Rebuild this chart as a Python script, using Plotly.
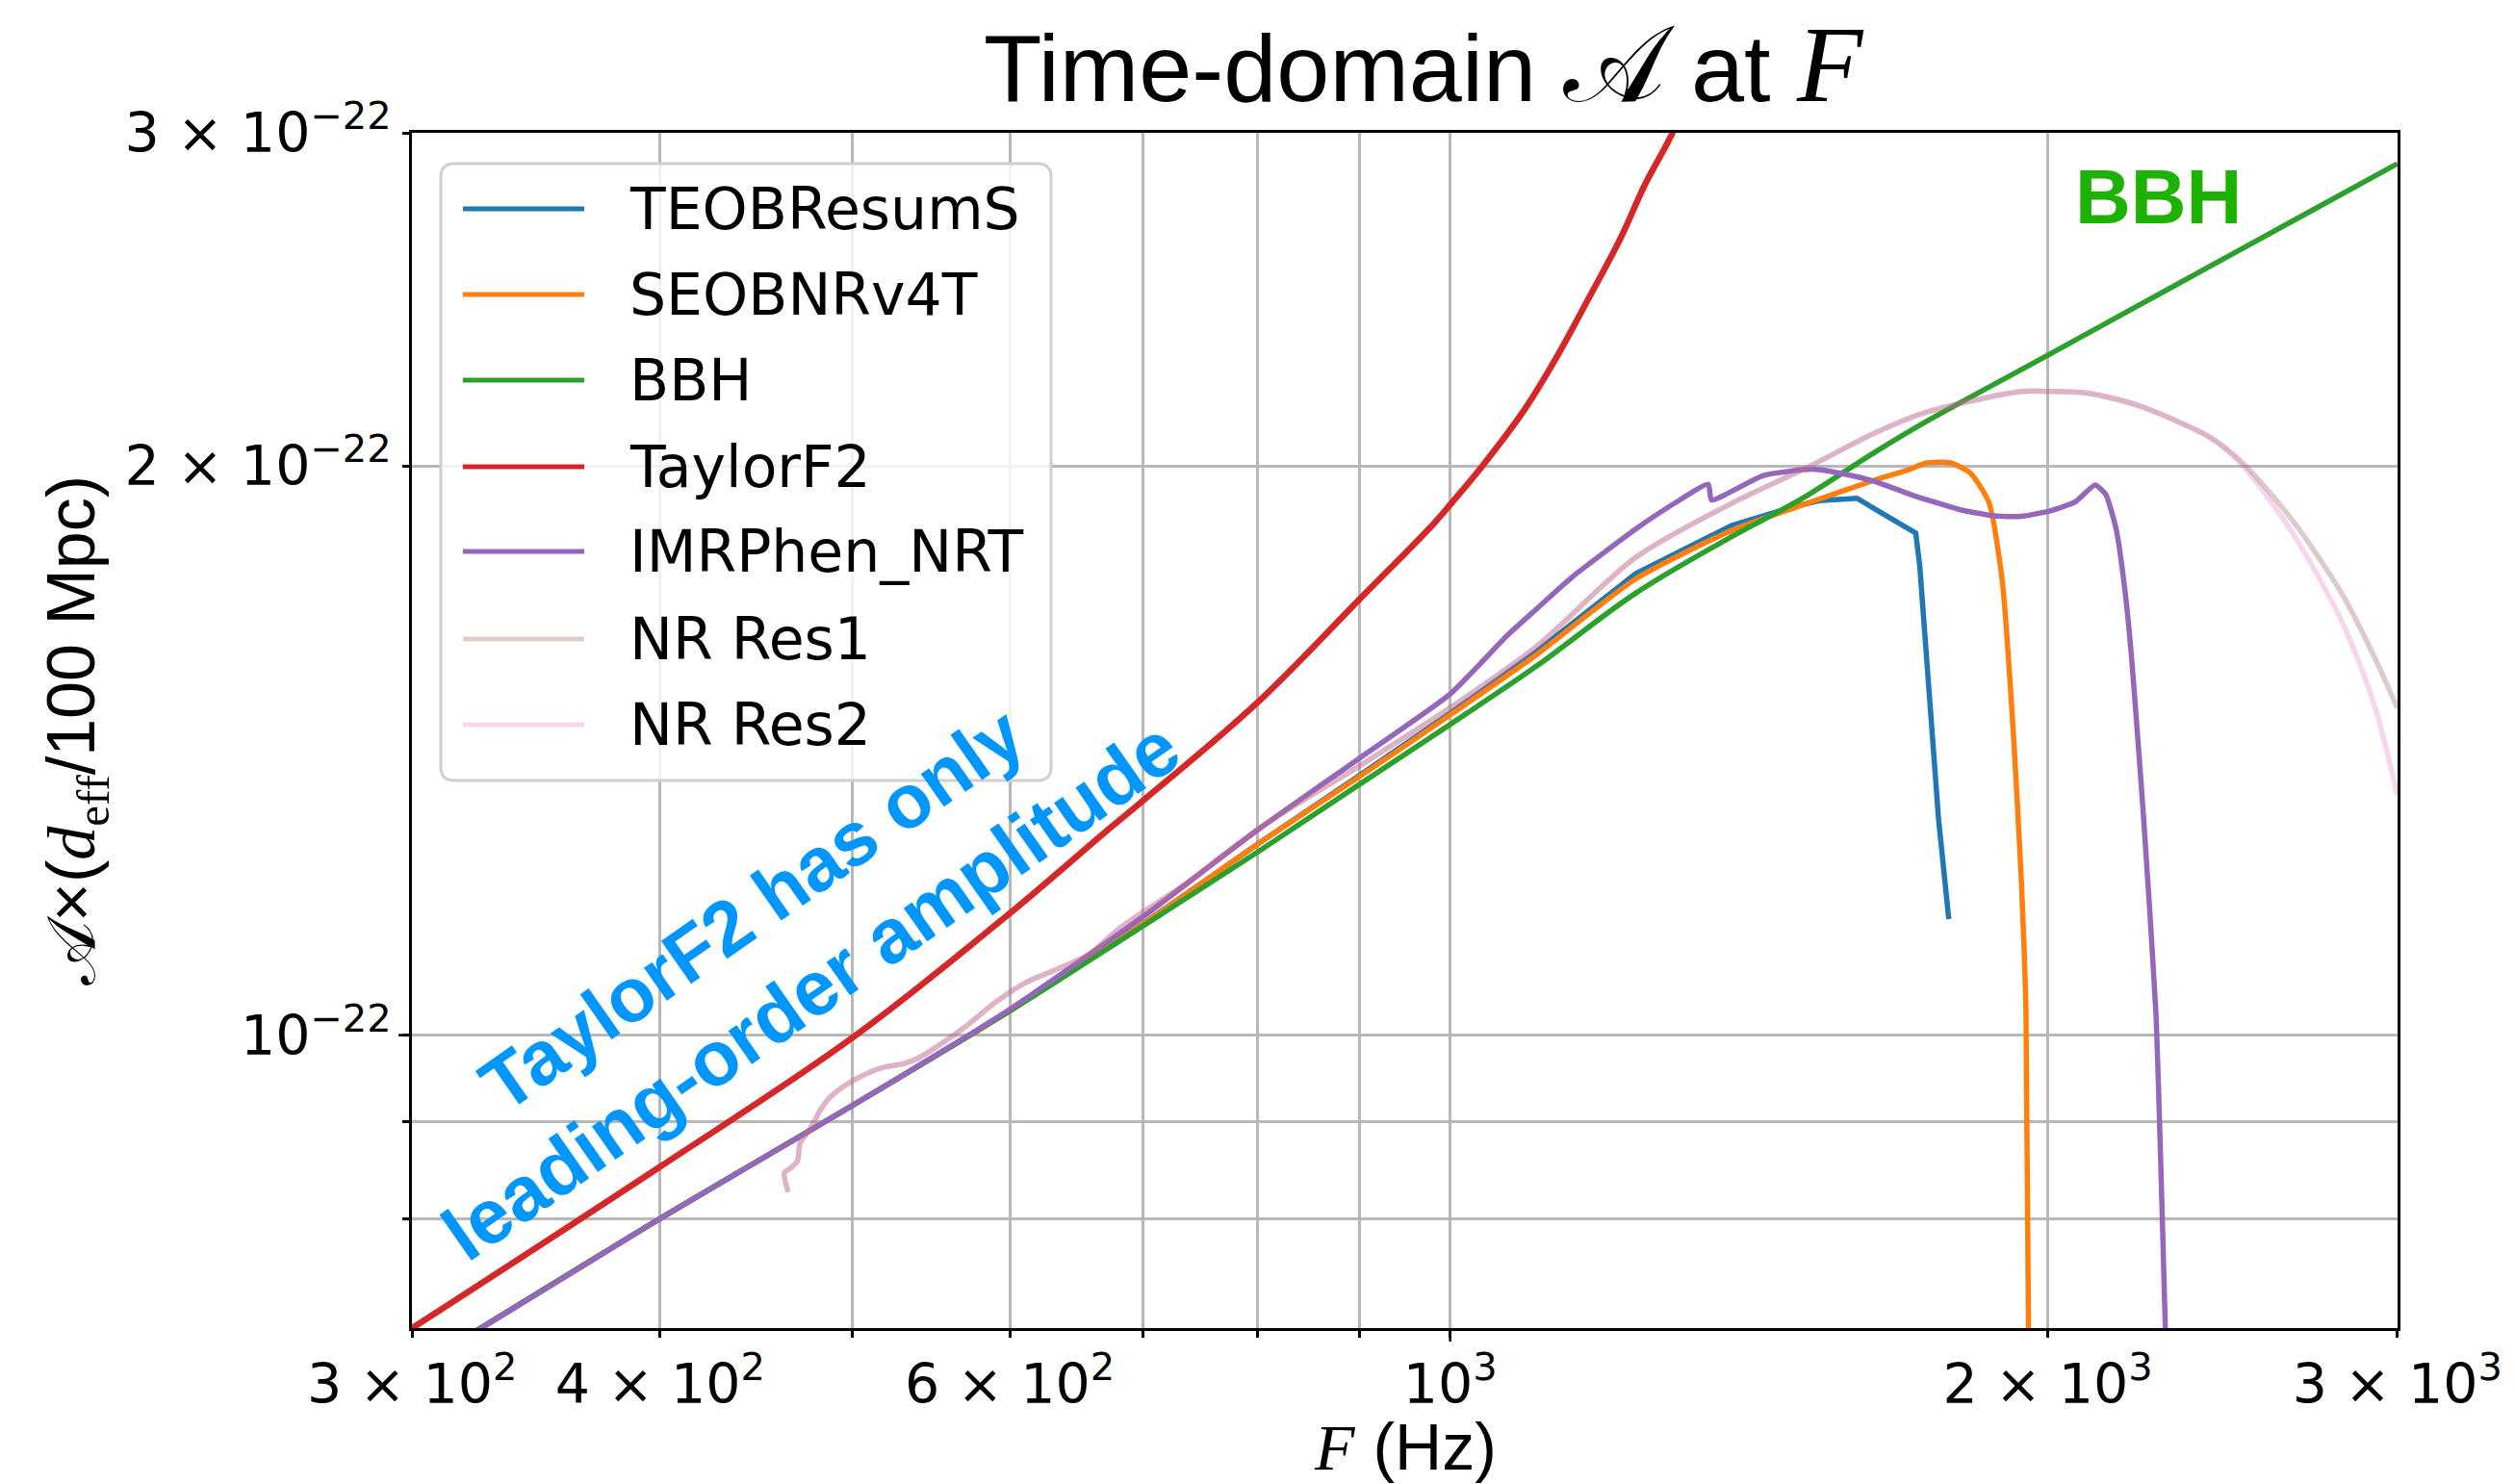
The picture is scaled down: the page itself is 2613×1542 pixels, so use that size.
import math
import plotly.graph_objects as go

# ---------------- data ----------------
F_TEOB = [300, 400, 500, 600, 700, 800, 900, 1000, 1105, 1240, 1386, 1458, 1494, 1538, 1603, 1638, 1716, 1724, 1739, 1762, 1783]
A_TEOB = [0.665e-22, 0.80e-22, 0.918e-22, 1.03e-22, 1.145e-22, 1.262e-22, 1.372e-22, 1.48e-22, 1.595e-22, 1.754e-22,
          1.86e-22, 1.89e-22, 1.905e-22, 1.918e-22, 1.923e-22, 1.897e-22, 1.843e-22, 1.771e-22, 1.555e-22, 1.301e-22, 1.152e-22]

F_SEOB = [300, 400, 500, 600, 700, 800, 900, 1000, 1105, 1240, 1386, 1500, 1634, 1700, 1736, 1785, 1828, 1868, 1897,
          1921, 1939, 1950, 1956]
A_SEOB = [0.665e-22, 0.80e-22, 0.918e-22, 1.03e-22, 1.145e-22, 1.262e-22, 1.37e-22, 1.477e-22, 1.589e-22, 1.743e-22,
          1.849e-22, 1.905e-22, 1.965e-22, 1.99e-22, 2.007e-22, 2.008e-22, 1.983e-22, 1.913e-22, 1.74e-22,
          1.454e-22, 1.215e-22, 1.03e-22, 0.69e-22]

F_BBH = [300, 400, 500, 600, 700, 800, 900, 1000, 1105, 1240, 1386, 1500, 1638, 1734, 2005, 2341, 2722, 3000]
A_BBH = [0.665e-22, 0.80e-22, 0.918e-22, 1.03e-22, 1.142e-22, 1.25e-22, 1.357e-22, 1.46e-22, 1.567e-22, 1.713e-22,
         1.835e-22, 1.919e-22, 2.035e-22, 2.109e-22, 2.292e-22, 2.506e-22, 2.733e-22, 2.89e-22]

F_TF2 = [300, 400, 500, 600, 671, 700, 800, 900, 980, 1000, 1038, 1090, 1131, 1173, 1218, 1254, 1287, 1310]
A_TF2 = [0.70e-22, 0.852e-22, 0.997e-22, 1.16e-22, 1.282e-22, 1.33e-22, 1.50e-22, 1.70e-22, 1.862e-22, 1.908e-22,
         2.0e-22, 2.142e-22, 2.282e-22, 2.448e-22, 2.637e-22, 2.82e-22, 2.966e-22, 3.08e-22]

F_IMR = [300, 400, 500, 600, 700, 800, 900, 1000, 1069, 1105, 1152, 1240, 1297, 1349, 1354, 1438, 1521, 1581, 1638,
         1710, 1808, 1880, 1939, 2003, 2064, 2113, 2139, 2165, 2188, 2204, 2220, 2235, 2267, 2293]
A_IMR = [0.665e-22, 0.80e-22, 0.918e-22, 1.032e-22, 1.155e-22, 1.284e-22, 1.401e-22, 1.515e-22, 1.628e-22, 1.68e-22,
         1.747e-22, 1.852e-22, 1.911e-22, 1.956e-22, 1.919e-22, 1.977e-22, 1.992e-22, 1.98e-22, 1.962e-22,
         1.930e-22, 1.896e-22, 1.882e-22, 1.881e-22, 1.893e-22, 1.914e-22, 1.954e-22, 1.932e-22, 1.852e-22,
         1.713e-22, 1.585e-22, 1.436e-22, 1.304e-22, 1.03e-22, 0.69e-22]

F_NR1 = [464, 462, 465, 469, 470.5, 474, 477, 482, 487, 496, 508, 519, 531, 540, 556, 571, 591, 612, 629, 658, 680,
         703, 733, 800, 900, 1000, 1105, 1240, 1386, 1511, 1638, 1734, 1939, 2003, 2090, 2212, 2331, 2419, 2508,
         2655, 2812, 2921, 3000]
A_NR1 = [0.826e-22, 0.846e-22, 0.850e-22, 0.858e-22, 0.877e-22, 0.887e-22, 0.896e-22, 0.914e-22, 0.927e-22,
         0.941e-22, 0.954e-22, 0.962e-22, 0.966e-22, 0.973e-22, 0.992e-22, 1.012e-22, 1.042e-22, 1.067e-22,
         1.080e-22, 1.104e-22, 1.137e-22, 1.165e-22, 1.199e-22, 1.285e-22, 1.388e-22, 1.49e-22, 1.605e-22,
         1.789e-22, 1.911e-22, 1.995e-22, 2.083e-22, 2.134e-22, 2.19e-22, 2.19e-22, 2.186e-22, 2.156e-22,
         2.109e-22, 2.068e-22, 2.007e-22, 1.873e-22, 1.713e-22, 1.585e-22, 1.489e-22]

F_NR2 = [464, 462, 465, 469, 470.5, 474, 477, 482, 487, 496, 508, 519, 531, 540, 556, 571, 591, 612, 629, 658, 680,
         703, 733, 800, 900, 1000, 1105, 1240, 1386, 1511, 1638, 1734, 1939, 2003, 2090, 2212, 2331, 2419, 2508,
         2655, 2812, 2921, 3000]
A_NR2 = [0.826e-22, 0.846e-22, 0.850e-22, 0.858e-22, 0.877e-22, 0.887e-22, 0.896e-22, 0.914e-22, 0.927e-22,
         0.941e-22, 0.954e-22, 0.962e-22, 0.966e-22, 0.973e-22, 0.992e-22, 1.012e-22, 1.042e-22, 1.067e-22,
         1.080e-22, 1.104e-22, 1.137e-22, 1.165e-22, 1.199e-22, 1.285e-22, 1.388e-22, 1.49e-22, 1.605e-22,
         1.789e-22, 1.911e-22, 1.995e-22, 2.083e-22, 2.134e-22, 2.19e-22, 2.19e-22, 2.186e-22, 2.156e-22,
         2.109e-22, 2.068e-22, 2.0e-22, 1.845e-22, 1.656e-22, 1.495e-22, 1.339e-22]

SERIES_NAMES = ["TEOBResumS", "SEOBNRv4T", "BBH", "TaylorF2", "IMRPhen_NRT", "NR Res1", "NR Res2"]
SERIES_COLORS = ["#1f77b4", "#ff7f0e", "#2ca02c", "#d62728", "#9467bd",
                 "rgba(140,86,75,0.3)", "rgba(227,119,194,0.3)"]
SERIES_F = [F_TEOB, F_SEOB, F_BBH, F_TF2, F_IMR, F_NR1, F_NR2]
SERIES_A = [A_TEOB, A_SEOB, A_BBH, A_TF2, A_IMR, A_NR1, A_NR2]
SERIES_SMOOTH = [0.0, 0.6, 1.0, 1.0, 0.5, 0.8, 0.8]
SERIES_WIDTH = [5.5, 5.5, 5.5, 6.5, 5.5, 5.5, 5.5]

X_TICKS = [300, 400, 600, 1000, 2000, 3000]
X_TICKTEXT = ["3 × 10<sup>2</sup>", "4 × 10<sup>2</sup>", "6 × 10<sup>2</sup>", "10<sup>3</sup>",
              "2 × 10<sup>3</sup>", "3 × 10<sup>3</sup>"]
X_MINOR = [500, 700, 800, 900]
Y_TICKS = [1e-22, 2e-22, 3e-22]
Y_TICKTEXT = ["10<sup>−22</sup>", "2 × 10<sup>−22</sup>", "3 × 10<sup>−22</sup>"]
Y_MINOR = [8e-23, 9e-23]
X_RANGE = [300, 3000]
Y_RANGE = [7e-23, 3e-22]

# ---------------- layout geometry ----------------
FW, FH = 2613, 1542
ML, MR, MT, MB = 428, 122, 138, 162
PW = FW - ML - MR
PH = FH - MT - MB


def xp(px):
    return (px - ML) / PW


def yp(py):
    return (FH - MB - py) / PH


fig = go.Figure()
for name, F, A, col, sm, w in zip(SERIES_NAMES, SERIES_F, SERIES_A, SERIES_COLORS, SERIES_SMOOTH, SERIES_WIDTH):
    line = dict(color=col, width=w)
    if sm > 0:
        line.update(shape="spline", smoothing=sm)
    fig.add_trace(go.Scatter(x=F, y=A, mode="lines", name=name, line=line,
                             showlegend=False, hoverinfo="skip"))

GRID = "#b8b8b8"
axis_common = dict(
    type="log", showline=True, linecolor="black", linewidth=3, mirror=True,
    ticks="outside", ticklen=7, tickwidth=2.5, tickcolor="black",
    showgrid=True, gridcolor=GRID, gridwidth=2.5, zeroline=False,
    tickfont=dict(family="DejaVu Sans", size=57, color="black"),
)
fig.update_xaxes(
    **axis_common,
    range=[math.log10(X_RANGE[0]) - 1e-4, math.log10(X_RANGE[1]) + 1e-4],
    tickmode="array", tickvals=X_TICKS, ticktext=X_TICKTEXT, tickangle=0,
    minor=dict(tickmode="array", tickvals=X_MINOR, ticks="outside", ticklen=7, tickwidth=2.5,
               tickcolor="black", showgrid=True, gridcolor=GRID, gridwidth=2.5),
)
fig.update_yaxes(
    **axis_common,
    range=[math.log10(Y_RANGE[0]), math.log10(Y_RANGE[1]) + 1e-4],
    tickmode="array", tickvals=Y_TICKS, ticktext=Y_TICKTEXT,
    minor=dict(tickmode="array", tickvals=Y_MINOR, ticks="outside", ticklen=7, tickwidth=2.5,
               tickcolor="black", showgrid=True, gridcolor=GRID, gridwidth=2.5),
)

shapes = []
annotations = []

# longer major ticks (matplotlib style) at 10^3 and 10^-22
x1000 = (math.log10(1000) - math.log10(X_RANGE[0])) / (math.log10(X_RANGE[1]) - math.log10(X_RANGE[0]))
y1e22 = (math.log10(1e-22) - math.log10(Y_RANGE[0])) / (math.log10(Y_RANGE[1]) - math.log10(Y_RANGE[0]))
shapes.append(dict(type="line", xref="paper", yref="paper", x0=x1000, x1=x1000, y0=0, y1=-14 / PH,
                   line=dict(color="black", width=2.5)))
shapes.append(dict(type="line", xref="paper", yref="paper", x0=0, x1=-14 / PW, y0=y1e22, y1=y1e22,
                   line=dict(color="black", width=2.5)))

# legend box (rounded)
lx0, lx1, ly0, ly1 = 458, 1092, 170, 811
r = 14
path = (f"M {xp(lx0 + r)} {yp(ly0)} L {xp(lx1 - r)} {yp(ly0)} Q {xp(lx1)} {yp(ly0)} {xp(lx1)} {yp(ly0 + r)} "
        f"L {xp(lx1)} {yp(ly1 - r)} Q {xp(lx1)} {yp(ly1)} {xp(lx1 - r)} {yp(ly1)} "
        f"L {xp(lx0 + r)} {yp(ly1)} Q {xp(lx0)} {yp(ly1)} {xp(lx0)} {yp(ly1 - r)} "
        f"L {xp(lx0)} {yp(ly0 + r)} Q {xp(lx0)} {yp(ly0)} {xp(lx0 + r)} {yp(ly0)} Z")
shapes.append(dict(type="path", xref="paper", yref="paper", path=path, layer="above",
                   fillcolor="rgba(255,255,255,0.8)", line=dict(color="#d0d0d0", width=3)))
row_y = [217, 306, 395, 485, 573, 664, 753]
for name, col, ry in zip(SERIES_NAMES, SERIES_COLORS, row_y):
    shapes.append(dict(type="line", xref="paper", yref="paper", x0=xp(481), x1=xp(607), y0=yp(ry), y1=yp(ry),
                       layer="above", line=dict(color=col, width=5)))
    annotations.append(dict(xref="paper", yref="paper", x=xp(652), y=yp(ry), xanchor="left", yanchor="middle",
                            text=name, showarrow=False,
                            font=dict(family="DejaVu Sans", size=60, color="black")))

# title
annotations.append(dict(
    xref="paper", yref="paper", x=xp(1020), y=yp(66), xanchor="left", yanchor="middle", showarrow=False,
    text='Time-domain <span style="font-family:DejaVu Serif;font-size:112px">𝒜</span> at '
         '<span style="font-family:Liberation Serif;font-size:112px"><i>F</i></span>',
    font=dict(family="Liberation Sans", size=99, color="black")))

# axis titles
annotations.append(dict(
    xref="paper", yref="paper", x=0.5, y=yp(1503), xanchor="center", yanchor="middle", showarrow=False,
    text='<span style="font-family:Liberation Serif"><i>F</i></span> (Hz)',
    font=dict(family="Liberation Sans", size=68, color="black")))
annotations.append(dict(
    xref="paper", yref="paper", x=xp(78), y=0.5, xanchor="center", yanchor="middle", showarrow=False,
    textangle=-90,
    text='<span style="font-family:DejaVu Serif">𝒜</span>×(<span style="font-family:Liberation Serif">'
         '<i>d</i><sub>eff</sub></span>/100 Mpc)',
    font=dict(family="Liberation Sans", size=70, color="black")))

# text annotations in the plot
annotations.append(dict(
    xref="paper", yref="paper", x=xp(781), y=yp(944), xanchor="center", yanchor="middle", showarrow=False,
    textangle=-35, text="<b>TaylorF2 has only</b>",
    font=dict(family="Liberation Sans", size=79, color="#0096ff")))
annotations.append(dict(
    xref="paper", yref="paper", x=xp(842), y=yp(1029), xanchor="center", yanchor="middle", showarrow=False,
    textangle=-35, text="<b>leading-order amplitude</b>",
    font=dict(family="Liberation Sans", size=80, color="#0096ff")))
annotations.append(dict(
    xref="paper", yref="paper", x=xp(2242), y=yp(204), xanchor="center", yanchor="middle", showarrow=False,
    text="<b>BBH</b>", font=dict(family="Liberation Sans", size=80, color="#1db100")))

fig.update_layout(
    width=FW, height=FH, autosize=False,
    margin=dict(l=ML, r=MR, t=MT, b=MB, pad=0),
    plot_bgcolor="white", paper_bgcolor="white",
    showlegend=False, shapes=shapes, annotations=annotations,
)

fig.write_html("out.html", include_plotlyjs=True, config={"displayModeBar": False})
